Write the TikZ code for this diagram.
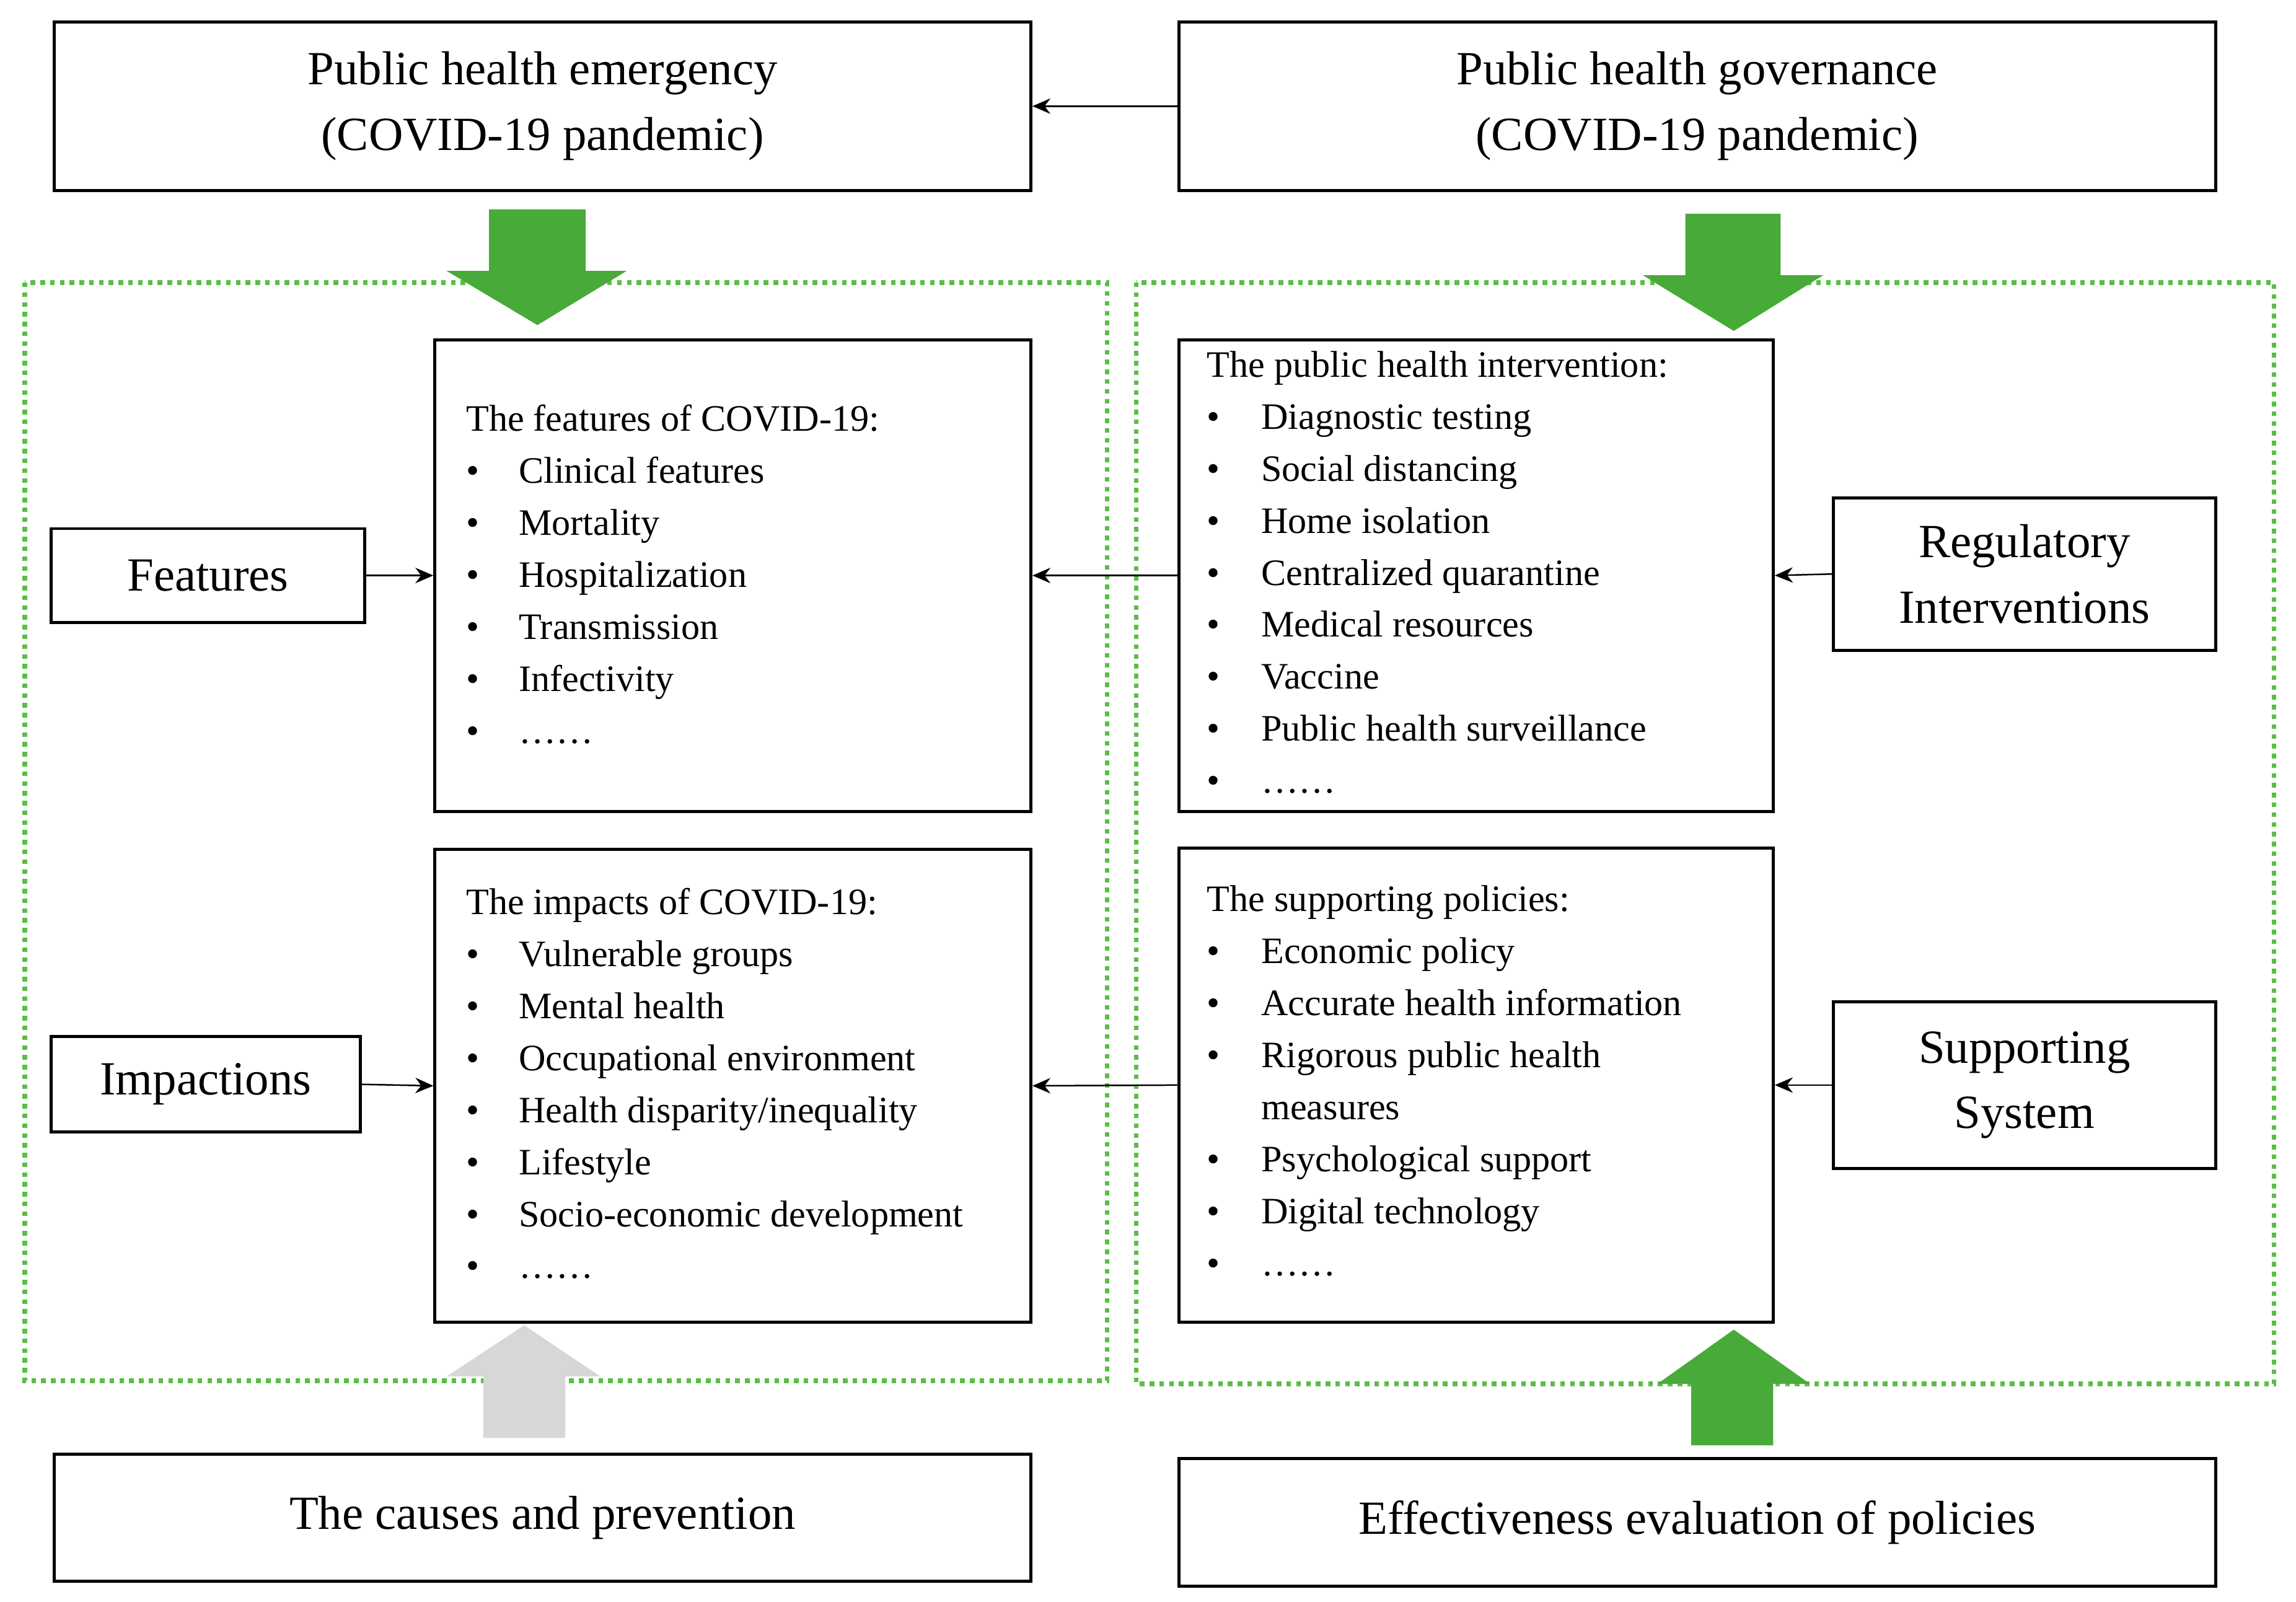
\documentclass[tikz,border=0pt]{standalone}
\usepackage{fontspec}
\setmainfont{Liberation Serif}
\usetikzlibrary{fit,arrows.meta}
\definecolor{gr}{RGB}{72,170,56}
\definecolor{grd}{RGB}{90,190,70}
\definecolor{gy}{RGB}{215,215,215}
\tikzset{
 box/.style={draw,line width=1.2pt,inner sep=0pt},
 big/.style={font=\fontsize{18.5}{25.5}\selectfont,align=center},
 lst/.style={font=\fontsize{14.5}{16}\selectfont,anchor=base west,inner sep=0pt,yshift=-6pt},
 arr/.style={-{Stealth[length=7pt,width=6pt]},line width=0.6pt},
 zone/.style={draw=grd,dotted,line width=1.8pt},
}
\begin{document}
\begin{tikzpicture}[x=0.02cm,y=-0.02cm]
\useasboundingbox (0,0) rectangle (1568,1094);
% zones
\draw[zone] (17,193) rectangle (756,943);
\draw[zone] (776,193) rectangle (1553,945);
% green/gray block arrows
\fill[gr] (334,143)--(400,143)--(400,185)--(428,185)--(367,222)--(305,185)--(334,185)--cycle;
\fill[gr] (1151,146)--(1216,146)--(1216,188)--(1245,188)--(1184,226)--(1122,188)--(1151,188)--cycle;
\fill[gy] (330,982)--(386,982)--(386,940)--(410,940)--(358,905)--(305,940)--(330,940)--cycle;
\fill[gr] (1155,987)--(1211,987)--(1211,945)--(1236,945)--(1184,908)--(1132,945)--(1155,945)--cycle;
% boxes
\node[box,fit={(37,15)(704,130)}] (A) {};
\node[big] at (A.center) {Public health emergency\\(COVID-19 pandemic)};
\node[box,fit={(805,15)(1513,130)}] (B) {};
\node[big] at (B.center) {Public health governance\\(COVID-19 pandemic)};
\node[box,fit={(35,361)(249,425)}] (F) {};
\node[big] at (F.center) {Features};
\node[box,fit={(35,708)(246,773)}] (I) {};
\node[big] at (I.center) {Impactions};
\node[box,fit={(1252,340)(1513,444)}] (R) {};
\node[big] at (R.center) {Regulatory\\Interventions};
\node[box,fit={(1252,684)(1513,798)}] (S) {};
\node[big] at (S.center) {Supporting\\System};
\node[box,fit={(37,993)(704,1080)}] (C) {};
\node[big] at (C.center) {The causes and prevention};
\node[box,fit={(805,996)(1513,1083)}] (E) {};
\node[big] at (E.center) {Effectiveness evaluation of policies};
\node[box,fit={(297,232)(704,554)}] (FL) {};
\node[box,fit={(297,580)(704,903)}] (IL) {};
\node[box,fit={(805,232)(1211,554)}] (RL) {};
\node[box,fit={(805,579)(1211,903)}] (SL) {};
% lists
\node[lst] at (318,284) {The features of COVID-19:};
\foreach \t [count=\i] in {Clinical features,Mortality,Hospitalization,Transmission,Infectivity,……}
 {\node[lst] at (318,284+35.5*\i) {•}; \node[lst] at (354,284+35.5*\i) {\t};}
\node[lst] at (318,614) {The impacts of COVID-19:};
\foreach \t [count=\i] in {Vulnerable groups,Mental health,Occupational environment,Health disparity/inequality,Lifestyle,Socio-economic development,……}
 {\node[lst] at (318,614+35.5*\i) {•}; \node[lst] at (354,614+35.5*\i) {\t};}
\node[lst] at (824,247) {The public health intervention:};
\foreach \t [count=\i] in {Diagnostic testing,Social distancing,Home isolation,Centralized quarantine,Medical resources,Vaccine,Public health surveillance,……}
 {\node[lst] at (824,247+35.5*\i) {•}; \node[lst] at (861,247+35.5*\i) {\t};}
\node[lst] at (824,612) {The supporting policies:};
\foreach \t/\y in {Economic policy/647.5,Accurate health information/683,Rigorous public health/718.5,Psychological support/789.5,Digital technology/825,……/860.5}
 {\node[lst] at (824,\y) {•}; \node[lst] at (861,\y) {\t};}
\node[lst] at (861,754) {measures};
% connectors
\draw[arr] (B.west) -- (A.east);
\draw[arr] (F.east) -- (FL.west);
\draw[arr] (I.east) -- (IL.west);
\draw[arr] (RL.west) -- (FL.east);
\draw[arr] (SL.west) -- (IL.east);
\draw[arr] (R.west) -- (RL.east);
\draw[arr] (S.west) -- (SL.east);
\end{tikzpicture}
\end{document}
